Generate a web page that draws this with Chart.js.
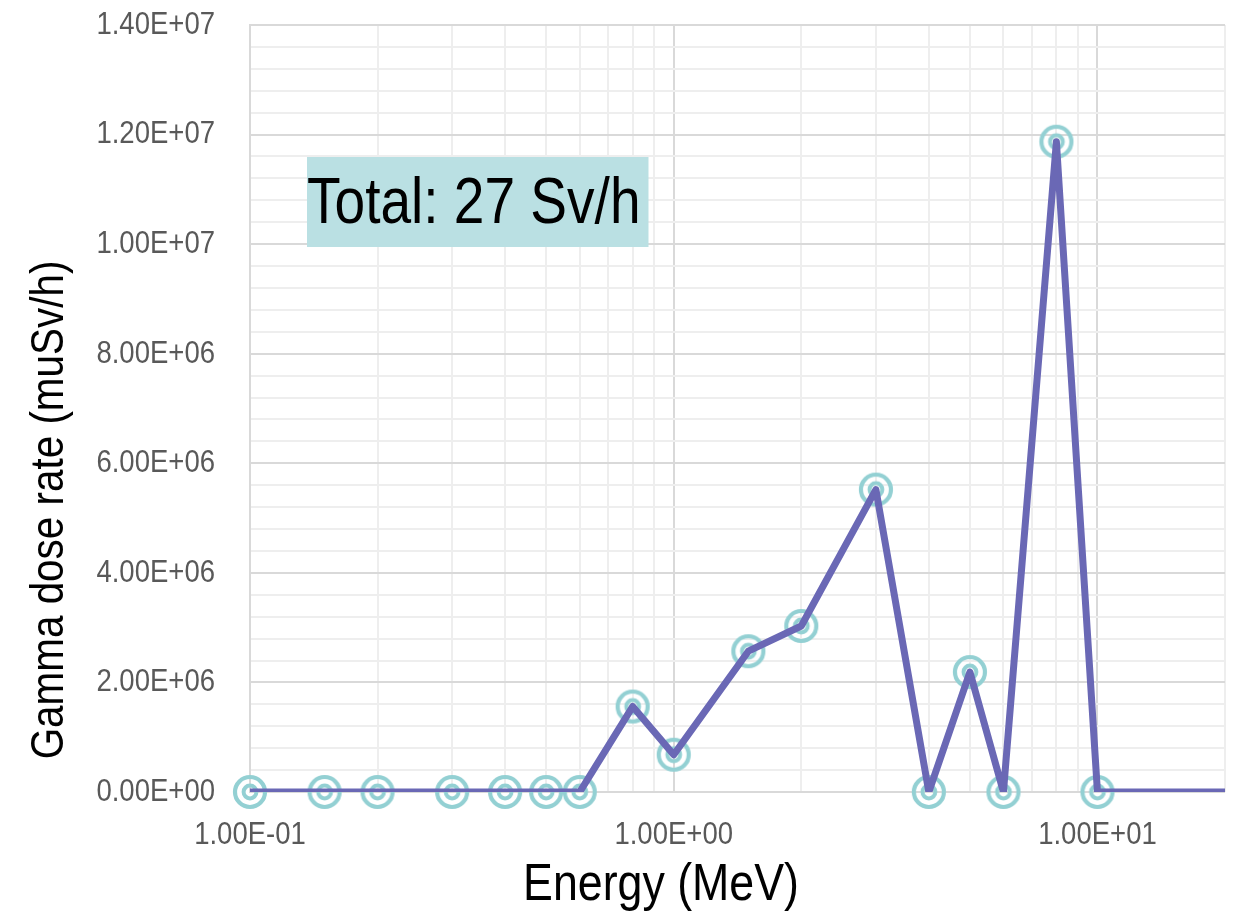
<!DOCTYPE html>
<html>
<head>
<meta charset="utf-8">
<title>Gamma dose rate spectrum</title>
<script src="https://cdn.jsdelivr.net/npm/chart.js@4/dist/chart.umd.min.js"></script>
<style>
  html, body { margin: 0; padding: 0; background: #ffffff; }
  #wrap { width: 1243px; height: 922px; }
</style>
</head>
<body>
<div id="wrap"><canvas id="chart" width="1243" height="922"></canvas></div>
<script>
// Photon energy groups (MeV) and the dose rate in each group (muSv/h)
const energies = [0.1, 0.15, 0.2, 0.3, 0.4, 0.5, 0.6, 0.8, 1.0, 1.5, 2, 3, 4, 5, 6, 8, 10, 20];
const doseRates = [0, 0, 0, 0, 0, 0, 0, 1.56e6, 0.68e6, 2.57e6, 3.03e6, 5.52e6, 0, 2.19e6, 0, 1.187e7, 0, 0];

const xRange = [0.1, 20];
const yRange = [0, 1.4e7];
const yMajorStep = 2e6;
const yMinorStep = 4e5;
const totalLabel = 'Total: 27 Sv/h';
const xTitle = 'Energy (MeV)';
const yTitle = 'Gamma dose rate (muSv/h)';

const FONT = "'Liberation Sans Narrow', 'Arial Narrow', 'Liberation Sans', Arial, sans-serif";
const NARROW = 0.86;          // horizontal squeeze giving a narrow-face look
const LINE_COLOR = '#6a68b5';
const MARKER_COLOR = '#93d0d3';
const MAJOR_GRID = '#d9d9d9';
const MINOR_GRID = '#eeeeee';

// Excel-style scientific label, e.g. 1.20E+07
function sci(v) {
  const [m, e] = v.toExponential(2).split('e');
  const n = parseInt(e, 10);
  const sign = n < 0 ? '-' : '+';
  return m + 'E' + sign + String(Math.abs(n)).padStart(2, '0');
}

function isDecade(v) {
  const l = Math.log10(v);
  return Math.abs(l - Math.round(l)) < 1e-9;
}

// Double-ring marker image
function ringMarker() {
  const c = document.createElement('canvas');
  c.width = 40; c.height = 40;
  const g = c.getContext('2d');
  g.strokeStyle = MARKER_COLOR;
  g.lineWidth = 4.2;
  g.beginPath(); g.arc(20, 20, 15, 0, Math.PI * 2); g.stroke();
  g.lineWidth = 4;
  g.beginPath(); g.arc(20, 20, 6.4, 0, Math.PI * 2); g.stroke();
  return c;
}

const points = energies.map((e, i) => ({ x: e, y: doseRates[i] }));

// Draw all chart text horizontally condensed around its anchor point
const narrowText = {
  id: 'narrowText',
  beforeDraw(chart) {
    const ctx = chart.ctx;
    if (ctx._plainFillText) return;
    const plain = ctx.fillText;
    ctx._plainFillText = plain;
    ctx.fillText = function (text, x, y) {
      this.save();
      this.translate(x, y);
      this.scale(NARROW, 1);
      plain.call(this, text, 0, 0);
      this.restore();
    };
  },
  afterDraw(chart) {
    const ctx = chart.ctx;
    if (ctx._plainFillText) {
      ctx.fillText = ctx._plainFillText;
      delete ctx._plainFillText;
    }
  }
};

// Boxed total label inside the plot area
const totalBox = {
  id: 'totalBox',
  beforeDatasetsDraw(chart) {
    const { ctx, chartArea } = chart;
    const x = chartArea.left + 57, y = chartArea.top + 132;
    ctx.save();
    ctx.font = '64px ' + FONT;
    const w = ctx.measureText(totalLabel).width * NARROW;
    ctx.fillStyle = '#bae0e3';
    ctx.fillRect(x, y, w + 8, 90);
    ctx.fillStyle = '#000000';
    ctx.textAlign = 'left';
    ctx.textBaseline = 'alphabetic';
    ctx.fillText(totalLabel, x, y + 66);
    ctx.restore();
  }
};

// Axis titles, placed the way the workbook had them
const axisTitles = {
  id: 'axisTitles',
  afterDatasetsDraw(chart) {
    const { ctx, chartArea } = chart;
    ctx.save();
    ctx.fillStyle = '#000000';
    ctx.textAlign = 'center';
    ctx.textBaseline = 'middle';
    ctx.font = '52px ' + FONT;
    ctx.fillText(xTitle, chartArea.left + 411, chartArea.bottom + 94);
    ctx.translate(50, chartArea.top + 485);
    ctx.rotate(-Math.PI / 2);
    ctx.font = '47px ' + FONT;
    ctx.fillText(yTitle, 0, 0);
    ctx.restore();
  }
};

new Chart(document.getElementById('chart'), {
  type: 'line',
  data: {
    datasets: [
      {
        data: points,
        borderColor: LINE_COLOR,
        borderWidth: 7,
        borderJoinStyle: 'round',
        pointRadius: 0,
        tension: 0,
        fill: false,
        order: 0
      },
      {
        data: points,
        showLine: false,
        pointStyle: ringMarker(),
        pointRadius: ctx => (ctx.raw && ctx.raw.x >= xRange[1]) ? 0 : 17,
        pointHoverRadius: 17,
        clip: false,
        order: 1
      }
    ]
  },
  options: {
    responsive: false,
    animation: false,
    layout: { padding: { top: 25, right: 17, left: 0, bottom: 0 } },
    plugins: { legend: { display: false }, tooltip: { enabled: false } },
    scales: {
      x: {
        type: 'logarithmic',
        min: xRange[0],
        max: xRange[1],
        afterBuildTicks(scale) {
          const vals = [];
          for (let d = xRange[0]; d <= xRange[1]; d *= 10) {
            for (let k = 1; k <= 9; k++) {
              const v = Math.round(d * k * 1e6) / 1e6;
              if (v <= xRange[1] + 1e-9) vals.push(v);
            }
          }
          scale.ticks = vals.map(v => ({ value: v, major: isDecade(v) }));
        },
        afterFit(scale) {
          scale.height = 130;
          scale.paddingLeft = 0;
          scale.paddingRight = 0;
        },
        grid: {
          color: c => (c.tick && isDecade(c.tick.value)) ? MAJOR_GRID : MINOR_GRID,
          lineWidth: 2,
          drawTicks: false
        },
        border: { display: false },
        ticks: {
          autoSkip: false,
          maxRotation: 0,
          padding: 24,
          color: '#595959',
          font: { family: FONT, size: 32 },
          callback: v => isDecade(v) ? sci(v) : ''
        },
        title: { display: false }
      },
      y: {
        min: yRange[0],
        max: yRange[1],
        afterFit(scale) {
          scale.width = 250;
          scale.paddingTop = 0;
          scale.paddingBottom = 0;
        },
        grid: {
          color: c => {
            const v = c.tick ? c.tick.value : 0;
            const r = v / yMajorStep;
            return Math.abs(r - Math.round(r)) < 1e-6 ? MAJOR_GRID : MINOR_GRID;
          },
          lineWidth: 2,
          drawTicks: false
        },
        border: { display: true, color: MAJOR_GRID, width: 2 },
        ticks: {
          stepSize: yMinorStep,
          autoSkip: false,
          padding: 35,
          color: '#595959',
          font: { family: FONT, size: 32 },
          callback: v => {
            const r = v / yMajorStep;
            return Math.abs(r - Math.round(r)) < 1e-6 ? sci(v) : '';
          }
        },
        title: { display: false }
      }
    }
  },
  plugins: [narrowText, totalBox, axisTitles]
});
</script>
</body>
</html>
